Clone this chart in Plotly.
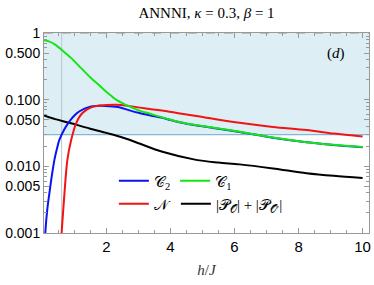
import plotly.graph_objects as go

# ---- data ----
h_c2 = [0.06, 0.09, 0.15, 0.22, 0.3, 0.375, 0.45, 0.53, 0.7, 0.84, 1.0, 1.16, 1.47, 1.78, 2.1, 2.4, 2.72, 3.03, 3.34, 3.75, 4.0, 4.5, 5.2, 6.16, 7.2, 8.25, 9.1, 10.0]
c2 = [0.0005, 0.001, 0.0022, 0.004, 0.0075, 0.0125, 0.018, 0.025, 0.037, 0.047, 0.058, 0.067, 0.078, 0.081, 0.080, 0.077, 0.069, 0.063, 0.0585, 0.0535, 0.0495, 0.0435, 0.0385, 0.0328, 0.0268, 0.0229, 0.0209, 0.0194]

h_c1 = [0.05, 0.2, 0.4, 0.6, 0.9, 1.2, 1.5, 1.8, 2.05, 2.3, 2.55, 2.8, 3.05, 3.34, 3.75, 4.0, 4.5, 5.2, 6.16, 7.2, 8.25, 9.1, 10.0]
c1 = [0.78, 0.75, 0.67, 0.56, 0.42, 0.30, 0.215, 0.16, 0.125, 0.100, 0.086, 0.076, 0.068, 0.062, 0.054, 0.050, 0.044, 0.039, 0.033, 0.027, 0.023, 0.021, 0.0195]

h_n = [0.57, 0.6, 0.65, 0.69, 0.78, 0.9, 1.06, 1.25, 1.56, 2.0, 2.3, 2.6, 2.72, 3.3, 3.97, 5.2, 6.16, 7.2, 8.25, 9.1, 10.0]
n_vals = [0.0006, 0.001, 0.0022, 0.004, 0.0125, 0.025, 0.045, 0.063, 0.078, 0.083, 0.084, 0.082, 0.080, 0.073, 0.066, 0.053, 0.045, 0.039, 0.035, 0.031, 0.028]

h_p = [0.05, 0.4, 0.84, 1.47, 2.19, 2.72, 3.03, 3.75, 4.8, 5.5, 6.16, 7.2, 8.25, 9.1, 10.0]
p_vals = [0.058, 0.051, 0.045, 0.037, 0.030, 0.025, 0.022, 0.0165, 0.0125, 0.0114, 0.0107, 0.0093, 0.0079, 0.0072, 0.0067]

h_marker = 0.6          # vertical reference line
y_band = [0.03, 1.0]    # shaded band limits
x_range = [0.05, 10.2]

y_tickvals = [0.001, 0.005, 0.01, 0.05, 0.1, 0.5, 1]
y_ticktext = ["0.001", "0.005", "0.010", "0.050", "0.100", "0.500", "1"]
x_tickvals = [2, 4, 6, 8, 10]
x_ticktext = ["2", "4", "6", "8", "10"]

# minor tick positions
y_minor = [m * 10 ** e for e in (-3, -2, -1) for m in range(2, 10)]
x_minor = [i * 0.5 for i in range(1, 21)]

serif = "Liberation Serif, Times New Roman, serif"
sans = "Liberation Sans, Arial, sans-serif"

fig = go.Figure()

# shaded band
fig.add_shape(type="rect", xref="paper", yref="y", x0=0, x1=1, y0=y_band[0], y1=y_band[1],
              fillcolor="#DDEEF5", line=dict(width=0), layer="below")
fig.add_shape(type="line", xref="paper", yref="y", x0=0, x1=1, y0=y_band[0], y1=y_band[0],
              line=dict(color="#86B7D6", width=1.2), layer="below")
fig.add_shape(type="line", xref="paper", yref="y", x0=0, x1=1, y0=y_band[1], y1=y_band[1],
              line=dict(color="#A38D78", width=1.2, dash="dash"), layer="above")
fig.add_shape(type="line", xref="x", yref="paper", x0=h_marker, x1=h_marker, y0=0, y1=1,
              line=dict(color="#B7C8D0", width=1), layer="below")

lw = 2
sm = 0.9
fig.add_trace(go.Scatter(x=h_p, y=p_vals, mode="lines", line=dict(color="black", width=lw, shape="spline", smoothing=sm),
                         name="|𝒫<sub>𝒪</sub>| + |𝒫<sub>𝒪′</sub>|", legend="legend2", legendrank=2))
fig.add_trace(go.Scatter(x=h_c2, y=c2, mode="lines", line=dict(color="#0A14F0", width=lw, shape="spline", smoothing=sm),
                         name="𝒞<sub>2</sub>", legend="legend", legendrank=1))
fig.add_trace(go.Scatter(x=h_n, y=n_vals, mode="lines", line=dict(color="#F01414", width=lw, shape="spline", smoothing=sm),
                         name="𝒩", legend="legend2", legendrank=1))
fig.add_trace(go.Scatter(x=h_c1, y=c1, mode="lines", line=dict(color="#14E614", width=lw, shape="spline", smoothing=sm),
                         name="𝒞<sub>1</sub>", legend="legend", legendrank=2))

fig.add_annotation(x=0.897, y=0.9, xref="paper", yref="paper", xanchor="center", yanchor="middle",
                   text="(<i>d</i>)", showarrow=False,
                   font=dict(family=serif, size=15, color="black"))

legend_common = dict(orientation="h", bgcolor="rgba(0,0,0,0)", font=dict(family=serif, size=15, color="black"),
                     itemwidth=30, tracegroupgap=0, xanchor="left", yanchor="middle")

fig.update_layout(
    width=374, height=285,
    margin=dict(l=44, r=5, t=33, b=52, autoexpand=False),
    paper_bgcolor="white", plot_bgcolor="white",
    title=dict(text="ANNNI, <i>κ</i> = 0.3, <i>β</i> = 1", x=0.5, xref="paper", xanchor="center",
               y=0.957, yref="container", yanchor="middle", font=dict(family=serif, size=15, color="black")),
    showlegend=True,
    legend=dict(x=0.215, y=0.26, **legend_common),
    legend2=dict(x=0.215, y=0.145, **legend_common),
    xaxis=dict(range=x_range, automargin=False, showgrid=False, zeroline=False, showline=True, linecolor="#999999", linewidth=1,
               mirror="ticks", ticks="inside", ticklen=5, tickcolor="#999999",
               tickvals=x_tickvals, ticktext=x_ticktext,
               tickfont=dict(family=sans, size=15, color="black"),
               minor=dict(tickvals=x_minor, ticks="inside", ticklen=3, tickcolor="#999999"),
               title=dict(text="<i>h</i>/<i>J</i>", font=dict(family=serif, size=15, color="#333333"), standoff=10)),
    yaxis=dict(type="log", range=[-3, 0], automargin=False, showgrid=False, zeroline=False, showline=True, linecolor="#999999", linewidth=1,
               mirror="ticks", ticks="inside", ticklen=5, tickcolor="#999999",
               tickvals=y_tickvals, ticktext=y_ticktext,
               tickfont=dict(family=sans, size=14, color="black"),
               minor=dict(tickvals=y_minor, ticks="inside", ticklen=3, tickcolor="#999999")),
)

fig.write_html("out.html", config={"displayModeBar": False},
               post_script="document.body.style.margin='0';")
